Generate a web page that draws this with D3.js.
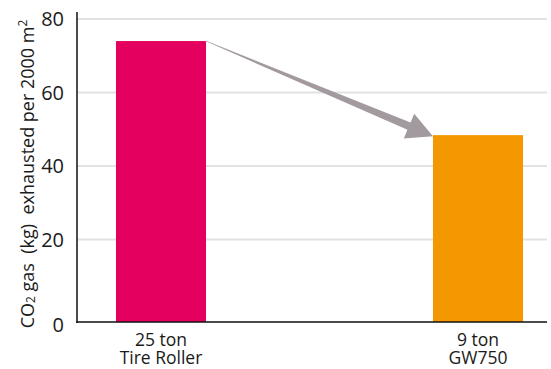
<!DOCTYPE html>
<html>
<head>
<meta charset="utf-8">
<script src="https://cdn.jsdelivr.net/npm/d3@7"></script>
<style>
  body { margin: 0; background: #fff; }
  text { font-family: "Open Sans", sans-serif; fill: #1a1a1a; }
</style>
</head>
<body>
<div id="chart"></div>
<script>
// chart data
const topLabels = ['25 ton', '9 ton'];
const bottomLabels = ['Tire Roller', 'GW750'];
const values = [74, 48.4];
const barColors = ['#e4005f', '#f39800'];
const yTicks = [20, 40, 60, 80];

const W = 551, H = 369;
const axisX = 77, baseY = 322, axisRight = 547;

const svg = d3.select('#chart').append('svg')
  .attr('width', W)
  .attr('height', H);

const x = d3.scaleBand()
  .domain(bottomLabels)
  .range([axisX, 562])
  .paddingInner(0.716)
  .paddingOuter(0.123);

const y = d3.scaleLinear()
  .domain([0, 80])
  .range([313, 19]);

// gridlines
svg.append('g')
  .selectAll('line')
  .data(yTicks)
  .join('line')
    .attr('x1', axisX)
    .attr('x2', axisRight)
    .attr('y1', d => y(d))
    .attr('y2', d => y(d))
    .attr('stroke', '#e2e2e2')
    .attr('stroke-width', 2);

// bars
svg.append('g')
  .selectAll('rect')
  .data(bottomLabels)
  .join('rect')
    .attr('x', d => x(d))
    .attr('width', x.bandwidth())
    .attr('y', (d, i) => y(values[i]))
    .attr('height', (d, i) => baseY - y(values[i]))
    .attr('fill', (d, i) => barColors[i]);

// arrow from top of first bar to top of second
const p0 = [x(bottomLabels[0]) + x.bandwidth(), y(values[0])];
const p1 = [x(bottomLabels[1]), y(values[1]) + 1];
const dx = p1[0] - p0[0], dy = p1[1] - p0[1];
const len = Math.hypot(dx, dy);
const ux = dx / len, uy = dy / len, nx = -uy, ny = ux;
const headLen = 26, headW = 13.5, shaftW = 4, tailW = 0.3;
const hb = [p1[0] - ux * headLen, p1[1] - uy * headLen];
const pt = (p, w) => [p[0] + nx * w, p[1] + ny * w];
const arrowPts = [
  pt(p0, -tailW), pt(hb, -shaftW), pt(hb, -headW), p1,
  pt(hb, headW), pt(hb, shaftW), pt(p0, tailW)
];
svg.append('polygon')
  .attr('points', arrowPts.map(p => p.join(',')).join(' '))
  .attr('fill', '#a29a9f');

// axes lines
svg.append('line')
  .attr('x1', axisX).attr('x2', axisX)
  .attr('y1', 12).attr('y2', baseY + 1)
  .attr('stroke', '#111').attr('stroke-width', 1.5);
svg.append('line')
  .attr('x1', axisX - 1).attr('x2', axisRight)
  .attr('y1', baseY).attr('y2', baseY)
  .attr('stroke', '#111').attr('stroke-width', 1.5);

// y tick labels
svg.append('g')
  .selectAll('text')
  .data(yTicks)
  .join('text')
    .attr('x', 64)
    .attr('y', d => y(d))
    .attr('dy', '0.36em')
    .attr('text-anchor', 'end')
    .attr('font-size', 20)
    .text(d => d);
svg.append('text')
  .attr('x', 64)
  .attr('y', baseY + 3)
  .attr('dy', '0.36em')
  .attr('text-anchor', 'end')
  .attr('font-size', 20)
  .text('0');

// x labels (two lines)
svg.append('g')
  .selectAll('text')
  .data(topLabels)
  .join('text')
    .attr('x', (d, i) => x(bottomLabels[i]) + x.bandwidth() / 2)
    .attr('y', 346)
    .attr('text-anchor', 'middle')
    .attr('font-size', 17.5)
    .text(d => d);
svg.append('g')
  .selectAll('text')
  .data(bottomLabels)
  .join('text')
    .attr('x', d => x(d) + x.bandwidth() / 2)
    .attr('y', 364)
    .attr('text-anchor', 'middle')
    .attr('font-size', 17.5)
    .text(d => d);

// y axis label
const yl = svg.append('text')
  .attr('text-anchor', 'middle')
  .attr('font-size', 18)
  .style('white-space', 'pre')
  .attr('transform', 'translate(34,174) rotate(-90)');
yl.append('tspan').text('CO');
yl.append('tspan').attr('font-size', 12).attr('dy', 1).text('2');
yl.append('tspan').attr('dy', -1).text(' gas  (kg)  exhausted per 2000 m');
yl.append('tspan').attr('font-size', 12).attr('dy', -7).text('2');
</script>
</body>
</html>
